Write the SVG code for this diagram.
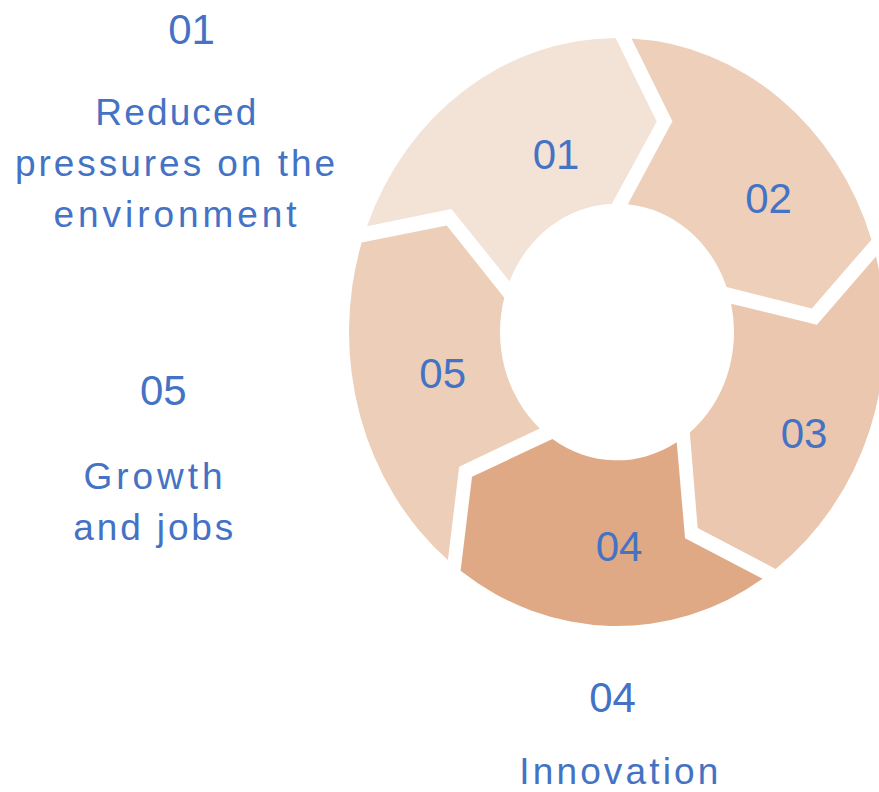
<svg xmlns="http://www.w3.org/2000/svg" width="879" height="792" viewBox="0 0 879 792">
<style>
  .num { font-family: "Liberation Sans", Arial, sans-serif; font-size: 42px; fill: #4472C4; text-anchor: middle; }
  .lbl { font-family: "Liberation Sans", Arial, sans-serif; font-size: 37px; fill: #4472C4; text-anchor: middle; }
  .s1 { fill: #F3E2D6; }
  .s2 { fill: #EDCFBA; }
  .s3 { fill: #EAC7AE; }
  .s4 { fill: #DFA986; }
  .s5 { fill: #EDCEB8; }
</style>
<rect width="879" height="792" fill="#FFFFFF"/>
<g id="ring" transform="translate(617,332) scale(1,1.097)">
  <path id="shape-01" class="s1" d="M -250.03 -96.47 A 268 268 0 0 1 -1.40 -268.0 L 39.75 -191.93 L -5.10 -116.89 A 117 117 0 0 0 -107.46 -46.28 L -165.63 -112.13 Z"/>
  <path id="shape-02" class="s2" d="M 14.49 -267.61 A 268 268 0 0 1 254.45 -84.15 L 194.82 -21.51 L 109.59 -40.97 A 117 117 0 0 0 10.81 -116.50 L 55.46 -192.16 Z"/>
  <path id="shape-03" class="s3" d="M 258.99 -68.91 A 268 268 0 0 1 158.66 215.99 L 80.66 178.63 L 72.83 91.57 A 117 117 0 0 0 114.14 -25.72 L 199.89 -6.63 Z"/>
  <path id="shape-04" class="s4" d="M 145.57 225.02 A 268 268 0 0 1 -156.39 217.64 L -144.97 131.91 L -64.58 97.57 A 117 117 0 0 0 59.73 100.60 L 68.08 188.06 Z"/>
  <path id="shape-05" class="s5" d="M -169.08 207.93 A 268 268 0 0 1 -255.31 -81.48 L -170.25 -97.11 L -112.74 -31.27 A 117 117 0 0 0 -77.23 87.88 L -157.82 122.86 Z"/>
</g>
<g id="connectors"/>
<g id="seg-01"><text class="num" x="556" y="169">01</text></g>
<g id="seg-02"><text class="num" x="768.5" y="212.5">02</text></g>
<g id="seg-03"><text class="num" x="804" y="448">03</text></g>
<g id="seg-04"><text class="num" x="619" y="561">04</text></g>
<g id="seg-05"><text class="num" x="442.7" y="388.3">05</text></g>
<g id="label-01">
  <text class="num" x="191.5" y="43.5">01</text>
  <text class="lbl" x="175.8" y="125" textLength="161" lengthAdjust="spacing">Reduced</text>
  <text class="lbl" x="175" y="176" textLength="320" lengthAdjust="spacing">pressures on the</text>
  <text class="lbl" x="175" y="226.7" textLength="243" lengthAdjust="spacing">environment</text>
</g>
<g id="label-05">
  <text class="num" x="163.3" y="405">05</text>
  <text class="lbl" x="153" y="489.3" textLength="139" lengthAdjust="spacing">Growth</text>
  <text class="lbl" x="153.3" y="540" textLength="160" lengthAdjust="spacing">and jobs</text>
</g>
<g id="label-04">
  <text class="num" x="612.5" y="711.7">04</text>
  <text class="lbl" x="618.8" y="784" textLength="199" lengthAdjust="spacing">Innovation</text>
</g>
</svg>
